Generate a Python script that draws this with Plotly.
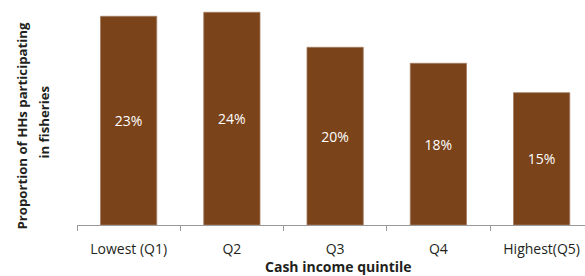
import plotly.graph_objects as go

categories = ["Lowest (Q1)", "Q2", "Q3", "Q4", "Highest(Q5)"]
values = [23.45, 23.9, 19.97, 18.17, 14.87]
labels = ["23%", "24%", "20%", "18%", "15%"]

FONT = "Open Sans"
BAR = "#7a431a"

fig = go.Figure()
fig.add_trace(go.Bar(
    x=categories, y=values, text=labels,
    textposition="inside", insidetextanchor="middle",
    textfont=dict(color="white", size=14, family=FONT),
    marker=dict(color=BAR, line=dict(color="#a57e62", width=0.8)),
    width=0.545, hoverinfo="skip",
))

fig.update_layout(
    width=585, height=276,
    margin=dict(l=77, r=0, t=5, b=51),
    paper_bgcolor="white", plot_bgcolor="white",
    showlegend=False,
    font=dict(family=FONT, color="#231f20", size=14),
    xaxis=dict(
        range=[-0.5, 4.42], showgrid=False, showline=True, linecolor="#9a9a9a", linewidth=1,
        ticks="outside", tickson="boundaries", ticklen=5, tickcolor="#9a9a9a",
        tickfont=dict(size=14, family=FONT, color="#231f20"), ticklabelstandoff=11,
    ),
    yaxis=dict(range=[0, 220 / 8.9], visible=False),
    annotations=[
        dict(text="<b>Cash income quintile</b>", xref="paper", yref="paper",
             x=(338 - 77) / 508, y=-(266.5 - 225) / 220, showarrow=False,
             font=dict(size=14, family=FONT, color="#231f20"), xanchor="center", yanchor="middle"),
        dict(text="<b>Proportion of HHs participating</b>", xref="paper", yref="paper",
             x=-(77 - 21.5) / 508, y=(225 - 126) / 220, showarrow=False, textangle=-90,
             font=dict(size=13.2, family=FONT, color="#231f20"), xanchor="center", yanchor="middle"),
        dict(text="<b>in fisheries</b>", xref="paper", yref="paper",
             x=-(77 - 43.5) / 508, y=(225 - 122) / 220, showarrow=False, textangle=-90,
             font=dict(size=13.2, family=FONT, color="#231f20"), xanchor="center", yanchor="middle"),
    ],
)

fig.write_html("out.html", config={"displayModeBar": False},
               post_script="document.body.style.margin='0';document.body.style.overflow='hidden';")
